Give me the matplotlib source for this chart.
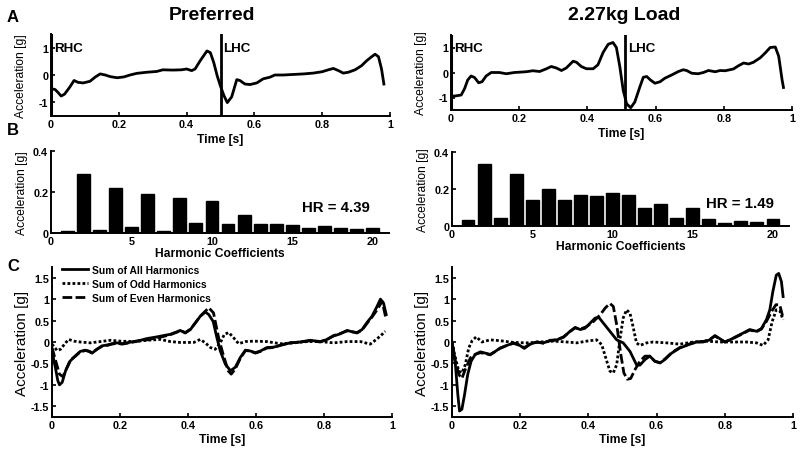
import matplotlib
matplotlib.use("Agg")
import matplotlib.pyplot as plt
from matplotlib.ticker import FuncFormatter

plt.rcParams['font.family'] = ['Liberation Sans', 'DejaVu Sans']

# ---------------- data ----------------
# Panel A (Preferred)
pref_t = [0, 0.012, 0.02, 0.03, 0.04, 0.055, 0.068, 0.08, 0.095, 0.115, 0.13, 0.145, 0.16, 0.175,
          0.195, 0.215, 0.233, 0.253, 0.282, 0.312, 0.33, 0.36, 0.385, 0.4, 0.415, 0.425, 0.44,
          0.46, 0.47, 0.48, 0.49, 0.5, 0.51, 0.52, 0.533, 0.548, 0.557, 0.572, 0.587, 0.607,
          0.626, 0.646, 0.66, 0.685, 0.715, 0.745, 0.774, 0.8, 0.818, 0.833, 0.848, 0.862,
          0.877, 0.897, 0.916, 0.931, 0.946, 0.956, 0.966, 0.975, 0.982]
pref_acc = [-0.5, -0.53, -0.63, -0.77, -0.7, -0.45, -0.2, -0.27, -0.29, -0.23, -0.08, 0.04, 0.0,
            -0.06, -0.1, -0.07, 0.0, 0.06, 0.1, 0.13, 0.19, 0.18, 0.19, 0.22, 0.16, 0.22, 0.52,
            0.88, 0.82, 0.46, -0.02, -0.41, -0.75, -1.01, -0.8, -0.17, -0.2, -0.33, -0.35, -0.29,
            -0.14, -0.08, 0.0, 0.0, 0.02, 0.04, 0.07, 0.12, 0.19, 0.24, 0.16, 0.07, 0.1, 0.19,
            0.34, 0.52, 0.67, 0.76, 0.67, 0.22, -0.33]
pref_lhc = 0.5

# Panel A (2.27kg Load)
load_t = [0, 0.012, 0.03, 0.04, 0.049, 0.059, 0.069, 0.081, 0.091, 0.103, 0.118, 0.142, 0.162,
          0.186, 0.22, 0.24, 0.26, 0.28, 0.294, 0.309, 0.324, 0.338, 0.358, 0.368, 0.382, 0.397,
          0.417, 0.431, 0.446, 0.461, 0.475, 0.485, 0.495, 0.505, 0.515, 0.527, 0.539, 0.554,
          0.564, 0.574, 0.585, 0.598, 0.613, 0.627, 0.647, 0.667, 0.681, 0.691, 0.706, 0.725,
          0.74, 0.755, 0.775, 0.789, 0.804, 0.828, 0.843, 0.858, 0.873, 0.887, 0.907, 0.922,
          0.936, 0.951, 0.961, 0.971, 0.975]
load_acc = [-0.95, -0.94, -0.9, -0.64, -0.3, -0.14, -0.2, -0.41, -0.37, -0.14, 0.0, 0.0, -0.05,
            0.0, 0.03, 0.07, 0.04, 0.15, 0.24, 0.18, 0.08, 0.18, 0.45, 0.41, 0.24, 0.15, 0.15,
            0.31, 0.8, 1.13, 1.2, 1.0, 0.24, -0.71, -1.25, -1.41, -1.18, -0.57, -0.19, -0.16,
            -0.3, -0.43, -0.37, -0.23, -0.1, 0.04, 0.11, 0.08, -0.03, -0.05, 0.0, 0.08, 0.03,
            0.08, 0.07, 0.14, 0.27, 0.38, 0.34, 0.41, 0.59, 0.79, 1.0, 1.02, 0.65, -0.3, -0.6]
load_lhc = 0.51

# Panel B harmonic amplitudes
harmonics = list(range(1, 21))
pref_harm = [0.008, 0.286, 0.013, 0.220, 0.029, 0.188, 0.008, 0.170, 0.051, 0.155,
             0.044, 0.090, 0.044, 0.044, 0.038, 0.023, 0.034, 0.026, 0.020, 0.024]
load_harm = [0.032, 0.333, 0.041, 0.283, 0.139, 0.198, 0.142, 0.169, 0.160, 0.177,
             0.166, 0.099, 0.121, 0.041, 0.099, 0.036, 0.016, 0.025, 0.022, 0.036]
pref_hr = "HR = 4.39"
load_hr = "HR = 1.49"

# Panel C (Preferred)
pref_all_t = [0, 0.01, 0.017, 0.022, 0.03, 0.04, 0.054, 0.069, 0.083, 0.098, 0.108, 0.118, 0.132,
              0.147, 0.162, 0.176, 0.191, 0.206, 0.22, 0.24, 0.26, 0.279, 0.309, 0.328, 0.348,
              0.368, 0.377, 0.392, 0.407, 0.422, 0.436, 0.451, 0.461, 0.474, 0.485, 0.495, 0.51,
              0.525, 0.539, 0.554, 0.569, 0.583, 0.598, 0.613, 0.632, 0.652, 0.676, 0.701, 0.73,
              0.76, 0.789, 0.809, 0.828, 0.848, 0.868, 0.882, 0.897, 0.912, 0.926, 0.941, 0.956,
              0.966, 0.975, 0.983]
pref_all = [-0.2, -0.6, -0.9, -1.0, -0.94, -0.67, -0.44, -0.32, -0.22, -0.19, -0.22, -0.26, -0.17,
            -0.09, -0.07, -0.04, -0.02, -0.04, -0.02, 0.01, 0.04, 0.08, 0.12, 0.15, 0.18, 0.24,
            0.27, 0.21, 0.29, 0.45, 0.6, 0.7, 0.64, 0.48, 0.1, -0.21, -0.52, -0.67, -0.59, -0.36,
            -0.19, -0.21, -0.25, -0.21, -0.13, -0.12, -0.07, -0.02, 0.0, 0.04, 0.01, 0.06, 0.14,
            0.19, 0.27, 0.24, 0.22, 0.29, 0.45, 0.6, 0.83, 1.0, 0.91, 0.64]
pref_odd_t = [0, 0.015, 0.025, 0.04, 0.049, 0.064, 0.083, 0.113, 0.142, 0.172, 0.2, 0.24, 0.28,
              0.319, 0.348, 0.377, 0.417, 0.436, 0.451, 0.466, 0.48, 0.495, 0.507, 0.52, 0.534,
              0.549, 0.569, 0.593, 0.632, 0.672, 0.711, 0.75, 0.789, 0.828, 0.868, 0.907, 0.936,
              0.946, 0.966, 0.98]
pref_odd = [-0.05, -0.2, -0.17, -0.02, 0.06, 0.02, 0.0, -0.02, 0.01, 0.04, 0.02, 0.01, 0.04, 0.06,
            0.01, -0.01, -0.01, 0.06, -0.02, -0.13, -0.17, -0.02, 0.18, 0.22, 0.1, -0.04, 0.01,
            0.02, 0.01, -0.04, -0.02, 0.01, 0.01, -0.02, 0.01, 0.01, -0.05, 0.01, 0.14, 0.25]
pref_even_t = [0, 0.013, 0.022, 0.032, 0.042, 0.054, 0.069, 0.083, 0.098, 0.108, 0.118, 0.132,
               0.147, 0.162, 0.176, 0.191, 0.206, 0.22, 0.24, 0.26, 0.279, 0.309, 0.328, 0.348,
               0.368, 0.377, 0.392, 0.407, 0.422, 0.436, 0.451, 0.461, 0.475, 0.49, 0.503, 0.518,
               0.527, 0.539, 0.554, 0.569, 0.583, 0.598, 0.613, 0.632, 0.652, 0.676, 0.701, 0.73,
               0.76, 0.789, 0.809, 0.828, 0.848, 0.868, 0.882, 0.897, 0.912, 0.926, 0.941, 0.956,
               0.971, 0.983]
pref_even = [-0.13, -0.5, -0.75, -0.81, -0.63, -0.42, -0.33, -0.23, -0.2, -0.21, -0.25, -0.17,
             -0.1, -0.08, -0.05, -0.03, -0.05, -0.03, 0.0, 0.03, 0.05, 0.1, 0.13, 0.17, 0.23,
             0.27, 0.22, 0.3, 0.45, 0.6, 0.72, 0.8, 0.68, 0.1, -0.28, -0.67, -0.75, -0.63, -0.38,
             -0.2, -0.21, -0.26, -0.22, -0.14, -0.13, -0.06, -0.02, 0.0, 0.03, 0.0, 0.06, 0.15,
             0.2, 0.26, 0.24, 0.21, 0.28, 0.43, 0.58, 0.75, 0.95, 0.52]

# Panel C (2.27kg Load)
load_all_t = [0, 0.01, 0.017, 0.022, 0.029, 0.037, 0.046, 0.056, 0.068, 0.083, 0.098, 0.112,
              0.127, 0.141, 0.161, 0.18, 0.195, 0.212, 0.229, 0.249, 0.268, 0.288, 0.307, 0.327,
              0.346, 0.361, 0.376, 0.39, 0.405, 0.42, 0.431, 0.444, 0.463, 0.483, 0.502, 0.522,
              0.541, 0.551, 0.566, 0.58, 0.595, 0.61, 0.624, 0.644, 0.668, 0.698, 0.717, 0.737,
              0.756, 0.771, 0.785, 0.8, 0.815, 0.834, 0.854, 0.873, 0.893, 0.907, 0.922, 0.932,
              0.941, 0.951, 0.958, 0.966, 0.971]
load_all = [0.0, -0.53, -1.22, -1.61, -1.57, -1.22, -0.76, -0.45, -0.29, -0.23, -0.26, -0.29,
            -0.22, -0.14, -0.08, -0.02, -0.06, -0.15, -0.05, 0.0, -0.02, 0.03, 0.05, 0.11, 0.25,
            0.34, 0.29, 0.32, 0.44, 0.56, 0.57, 0.44, 0.25, 0.05, -0.02, -0.22, -0.53, -0.54,
            -0.41, -0.33, -0.45, -0.49, -0.41, -0.26, -0.14, -0.05, 0.0, 0.0, 0.05, 0.15, 0.08,
            0.0, 0.05, 0.13, 0.21, 0.29, 0.25, 0.31, 0.52, 0.75, 1.18, 1.56, 1.6, 1.41, 1.06]
load_odd_t = [0, 0.01, 0.02, 0.029, 0.039, 0.049, 0.059, 0.071, 0.088, 0.112, 0.141, 0.18, 0.22,
              0.259, 0.298, 0.337, 0.366, 0.395, 0.424, 0.439, 0.454, 0.463, 0.473, 0.483, 0.493,
              0.502, 0.512, 0.522, 0.532, 0.541, 0.551, 0.571, 0.59, 0.629, 0.668, 0.707, 0.746,
              0.785, 0.824, 0.863, 0.893, 0.912, 0.927, 0.939, 0.951, 0.961, 0.971]
load_odd = [0.0, -0.37, -0.68, -0.72, -0.53, -0.14, 0.03, 0.12, 0.0, 0.05, 0.03, -0.01, -0.02,
            0.0, 0.02, 0.0, -0.02, 0.02, 0.05, -0.06, -0.45, -0.68, -0.72, -0.53, 0.09, 0.56,
            0.75, 0.67, 0.32, -0.02, -0.08, -0.02, 0.0, -0.02, -0.05, 0.0, 0.02, 0.0, 0.0, 0.0,
            -0.02, -0.08, 0.05, 0.48, 0.75, 0.73, 0.52]
load_even_t = [0, 0.01, 0.02, 0.029, 0.039, 0.054, 0.068, 0.083, 0.098, 0.112, 0.127, 0.141,
               0.161, 0.18, 0.195, 0.212, 0.229, 0.249, 0.268, 0.288, 0.307, 0.327, 0.346, 0.361,
               0.376, 0.395, 0.415, 0.434, 0.449, 0.463, 0.473, 0.483, 0.495, 0.504, 0.514,
               0.524, 0.537, 0.551, 0.566, 0.58, 0.595, 0.61, 0.624, 0.644, 0.668, 0.698, 0.717,
               0.737, 0.756, 0.771, 0.785, 0.8, 0.815, 0.834, 0.854, 0.873, 0.893, 0.907, 0.922,
               0.937, 0.95, 0.961, 0.971]
load_even = [0.0, -0.45, -0.76, -0.85, -0.64, -0.37, -0.29, -0.25, -0.27, -0.3, -0.22, -0.15,
             -0.08, -0.03, -0.07, -0.13, -0.05, 0.0, -0.03, 0.04, 0.05, 0.12, 0.24, 0.33, 0.3,
             0.36, 0.48, 0.63, 0.79, 0.9, 0.83, 0.4, -0.29, -0.72, -0.87, -0.85, -0.64, -0.45,
             -0.33, -0.33, -0.45, -0.48, -0.4, -0.25, -0.13, -0.04, 0.0, 0.01, 0.06, 0.14, 0.07,
             0.0, 0.05, 0.12, 0.2, 0.28, 0.24, 0.3, 0.48, 0.71, 0.87, 0.87, 0.56]

legend_labels = ["Sum of All Harmonics", "Sum of Odd Harmonics", "Sum of Even Harmonics"]
time_ticks = [0, 0.2, 0.4, 0.6, 0.8, 1]
c_ticks = [-1.5, -1, -0.5, 0, 0.5, 1, 1.5]

# ---------------- figure ----------------
W, H = 800, 452
fig = plt.figure(figsize=(8, 4.52), dpi=100)


def pax(x0, x1, ytop, ybot):
    return fig.add_axes([x0 / W, 1 - ybot / H, (x1 - x0) / W, (ybot - ytop) / H])


fmt = FuncFormatter(lambda v, p: f"{v:g}")
TICK_FS = 7.8
LAB_FS = 8.7


def style(ax):
    for s in ('top', 'right'):
        ax.spines[s].set_visible(False)
    for s in ('left', 'bottom'):
        ax.spines[s].set_linewidth(1.4)
    ax.tick_params(direction='in', length=3, width=1.2, labelsize=TICK_FS, pad=2)
    for lab in ax.get_xticklabels() + ax.get_yticklabels():
        lab.set_fontweight('bold')
    ax.xaxis.set_major_formatter(fmt)
    ax.yaxis.set_major_formatter(fmt)


LW = 2.0

# Panel A
for (x0, x1, yt, yb, t, a, lhc) in [(51, 390, 35, 117, pref_t, pref_acc, pref_lhc),
                                     (451, 792, 36, 111, load_t, load_acc, load_lhc)]:
    ax = pax(x0, x1, yt, yb)
    ax.plot(t, a, color='black', lw=LW, solid_joinstyle='round')
    ax.axvline(0, color='black', lw=2.2)
    ax.axvline(lhc, color='black', lw=2.0)
    ax.set_xlim(0, 1)
    ax.set_ylim(-1.5, 1.5)
    ax.set_xticks(time_ticks)
    ax.set_yticks([-1, 0, 1])
    ax.text(0.008, 1.0, "RHC", fontsize=9.6, fontweight='bold', va='center', ha='left')
    ax.text(lhc + 0.008, 1.0, "LHC", fontsize=9.6, fontweight='bold', va='center', ha='left')
    ax.set_xlabel("Time [s]", fontsize=LAB_FS, fontweight='bold', labelpad=3)
    ax.set_ylabel("Acceleration [g]", fontsize=LAB_FS, labelpad=8.5)
    style(ax)

# Panel B
for (x0, x1, yt, yb, vals, hr, hrx) in [(51, 389, 152, 234, pref_harm, pref_hr, 15.6),
                                         (452, 789, 153, 227, load_harm, load_hr, 15.8)]:
    ax = pax(x0, x1, yt, yb)
    ax.bar(harmonics, vals, width=0.8, color='black', edgecolor='black')
    ax.set_xlim(0, 21)
    ax.set_ylim(0, 0.4)
    ax.set_xticks([0, 5, 10, 15, 20])
    ax.set_yticks([0, 0.2, 0.4])
    ax.text(hrx, 0.125, hr, fontsize=10.8, fontweight='bold', va='center', ha='left')
    ax.set_xlabel("Harmonic Coefficients", fontsize=LAB_FS, fontweight='bold', labelpad=1)
    ax.set_ylabel("Acceleration [g]", fontsize=LAB_FS, labelpad=3.5)
    style(ax)

# Panel C
for i, (x0, x1, series) in enumerate([
        (52, 392, [(pref_all_t, pref_all), (pref_odd_t, pref_odd), (pref_even_t, pref_even)]),
        (452, 793, [(load_all_t, load_all), (load_odd_t, load_odd), (load_even_t, load_even)])]):
    ax = pax(x0, x1, 268, 418)
    (ta, ya), (to, yo), (te, ye) = series
    l1, = ax.plot(ta, ya, color='black', lw=LW, label=legend_labels[0])
    l2, = ax.plot(to, yo, color='black', lw=LW, dashes=(1.0, 0.8), label=legend_labels[1])
    l3, = ax.plot(te, ye, color='black', lw=LW, dashes=(3.5, 1.2), label=legend_labels[2])
    ax.set_xlim(0, 1)
    ax.set_ylim(-1.75, 1.75)
    ax.set_xticks(time_ticks)
    ax.set_yticks(c_ticks)
    ax.set_xlabel("Time [s]", fontsize=LAB_FS, fontweight='bold', labelpad=2)
    ax.set_ylabel("Acceleration [g]", fontsize=11, labelpad=1.5)
    style(ax)
    if i == 0:
        ax.legend(handles=[l1, l2, l3], loc='upper left', bbox_to_anchor=(0.028, 1.013),
                  frameon=False, borderpad=0, borderaxespad=0, handlelength=2.6,
                  handletextpad=0.35, labelspacing=0.38,
                  prop={'size': 7.4, 'weight': 'bold'})

# Titles and panel letters
fig.text(212 / W, 1 - 16 / H, "Preferred", fontsize=14, fontweight='bold', ha='center', va='center')
fig.text(624 / W, 1 - 16 / H, "2.27kg Load", fontsize=14, fontweight='bold', ha='center', va='center')
fig.text(13 / W, 1 - 18 / H, "A", fontsize=12, fontweight='bold', ha='center', va='center')
fig.text(13 / W, 1 - 131 / H, "B", fontsize=12, fontweight='bold', ha='center', va='center')
fig.text(13 / W, 1 - 267 / H, "C", fontsize=12, fontweight='bold', ha='center', va='center')

fig.savefig("out.png", dpi=100)
